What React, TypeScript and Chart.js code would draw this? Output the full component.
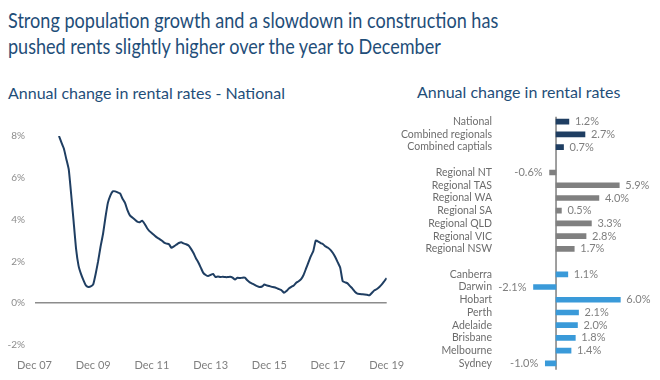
import React, { useEffect, useRef } from "react";
import { Chart, registerables } from "chart.js";

Chart.register(...registerables);

// ---------- Left chart data ----------
const tickLabels = ["Dec 07", "Dec 09", "Dec 11", "Dec 13", "Dec 15", "Dec 17", "Dec 19"];
const monthsPerTick = 24;
const firstMonth = 10; // months after Dec 07 (Oct 08)
const national = [
  8.0, 7.7, 7.4, 6.9, 6.4, 5.2, 3.9, 2.6, 1.8, 1.4,
  1.1, 0.85, 0.78, 0.8, 0.9, 1.4, 2.0, 2.7, 3.3, 4.1,
  4.8, 5.15, 5.35, 5.35, 5.3, 5.25, 5.0, 4.8, 4.45, 4.2,
  4.1, 4.0, 3.9, 3.87, 3.95, 3.8, 3.6, 3.45, 3.35, 3.25,
  3.15, 3.08, 3.0, 2.9, 2.85, 2.82, 2.65, 2.72, 2.8, 2.88,
  2.92, 2.86, 2.82, 2.76, 2.6, 2.4, 2.15, 1.95, 1.7, 1.45,
  1.35, 1.3, 1.35, 1.4, 1.25, 1.28, 1.25, 1.27, 1.25, 1.25,
  1.27, 1.22, 1.13, 1.22, 1.2, 1.22, 1.22, 1.1, 1.0, 0.94,
  0.88, 0.82, 0.78, 0.8, 0.89, 0.85, 0.82, 0.78, 0.76, 0.72,
  0.67, 0.62, 0.5, 0.58, 0.7, 0.78, 0.85, 0.98, 1.05, 1.15,
  1.35, 1.65, 1.95, 2.25, 2.5, 3.0, 2.95, 2.88, 2.82, 2.72,
  2.65, 2.55, 2.4, 2.2, 1.95, 1.7, 1.05, 1.0, 0.95, 0.82,
  0.7, 0.55, 0.46, 0.44, 0.43, 0.42, 0.4, 0.38, 0.5, 0.62,
  0.68, 0.78, 0.9, 1.05, 1.2,
];
const yTicks = [-2, 0, 2, 4, 6, 8];

// ---------- Right chart data ----------
const barLabels = [
  "National", "Combined regionals", "Combined captials", "",
  "Regional NT", "Regional TAS", "Regional WA", "Regional SA", "Regional QLD", "Regional VIC", "Regional NSW", "",
  "Canberra", "Darwin", "Hobart", "Perth", "Adelaide", "Brisbane", "Melbourne", "Sydney",
];
const barValues = [
  1.2, 2.7, 0.7, null,
  -0.6, 5.9, 4.0, 0.5, 3.3, 2.8, 1.7, null,
  1.1, -2.1, 6.0, 2.1, 2.0, 1.8, 1.4, -1.0,
];
const barGroups = [
  "nat", "nat", "nat", "",
  "reg", "reg", "reg", "reg", "reg", "reg", "reg", "",
  "cap", "cap", "cap", "cap", "cap", "cap", "cap", "cap",
];

const FONT = "Lato, 'Open Sans', sans-serif";
const TITLE_COLOR = "#1f4e79";
const groupColor: Record<string, string> = { nat: "#1f3e62", reg: "#808080", cap: "#3a9ad9", "": "#000" };

function LineChart() {
  const ref = useRef<HTMLCanvasElement>(null);
  useEffect(() => {
    const chart = new Chart(ref.current!, {
      type: "line",
      data: {
        datasets: [
          {
            data: national.map((v, i) => ({ x: firstMonth + i, y: v })),
            borderColor: "#1f3e62",
            borderWidth: 2,
            pointRadius: 0,
            tension: 0.15,
            fill: false,
          },
        ],
      },
      options: {
        responsive: false,
        animation: false,
        devicePixelRatio: 1,
        layout: { padding: { left: 0, top: 36, right: 33.3, bottom: 0 } },
        plugins: { legend: { display: false }, tooltip: { enabled: false } },
        scales: {
          x: {
            type: "linear",
            min: 0,
            max: (tickLabels.length - 1) * monthsPerTick,
            grid: { display: false },
            border: { display: false },
            afterBuildTicks: (s: any) => {
              s.ticks = tickLabels.map((_, i) => ({ value: i * monthsPerTick }));
            },
            afterFit: (s: any) => {
              s.height = 35;
            },
            ticks: {
              autoSkip: false,
              maxRotation: 0,
              padding: 6,
              color: "#7f7f7f",
              font: { family: FONT, size: 11 },
              callback: (v: any) => tickLabels[Math.round(Number(v) / monthsPerTick)],
            },
          },
          y: {
            min: -2,
            max: 8,
            afterBuildTicks: (s: any) => {
              s.ticks = yTicks.map((v) => ({ value: v }));
            },
            afterFit: (s: any) => {
              s.width = 34.5;
            },
            border: { display: false },
            grid: {
              drawTicks: false,
              lineWidth: 1.5,
              color: (c: any) => (c.tick && c.tick.value === 0 ? "#8c8c8c" : "rgba(0,0,0,0)"),
            },
            ticks: {
              padding: 9.5,
              color: "#8c8c8c",
              font: { family: FONT, size: 10 },
              callback: (v: any) => `${v}%`,
            },
          },
        },
      },
    } as any);
    return () => chart.destroy();
  }, []);
  return <canvas ref={ref} width={420} height={280} style={{ position: "absolute", left: 0, top: 100, width: 420, height: 280 }} />;
}

const barPlugin = {
  id: "barExtras",
  beforeDatasetsDraw(chart: any) {
    const { ctx, chartArea } = chart;
    const x0 = chart.scales.x.getPixelForValue(0);
    ctx.save();
    ctx.strokeStyle = "#7f7f7f";
    ctx.lineWidth = 1.5;
    ctx.beginPath();
    ctx.moveTo(x0, chartArea.top + 1.5);
    ctx.lineTo(x0, chartArea.bottom);
    ctx.stroke();
    ctx.restore();
  },
  afterDatasetsDraw(chart: any) {
    const { ctx } = chart;
    const meta = chart.getDatasetMeta(0);
    ctx.save();
    ctx.font = `11px ${FONT}`;
    ctx.fillStyle = "#7f7f7f";
    ctx.textBaseline = "middle";
    meta.data.forEach((el: any, i: number) => {
      const v = barValues[i];
      if (v === null || v === undefined) return;
      const txt = `${v.toFixed(1)}%`;
      if (v >= 0) {
        ctx.textAlign = "left";
        ctx.fillText(txt, el.x + 6, el.y);
      } else {
        ctx.textAlign = "right";
        ctx.fillText(txt, el.x - 7, el.y);
      }
    });
    ctx.restore();
  },
};

function BarChart() {
  const ref = useRef<HTMLCanvasElement>(null);
  useEffect(() => {
    const chart = new Chart(ref.current!, {
      type: "bar",
      data: {
        labels: barLabels,
        datasets: [
          {
            data: barValues,
            backgroundColor: barGroups.map((g) => groupColor[g]),
            barThickness: 5,
            borderWidth: 0,
          },
        ],
      },
      options: {
        indexAxis: "y",
        responsive: false,
        animation: false,
        devicePixelRatio: 1,
        layout: { padding: { left: 0, top: 15.3, right: 0, bottom: 9.7 } },
        plugins: { legend: { display: false }, tooltip: { enabled: false } },
        scales: {
          x: { display: false, min: -5.6, max: 9.7 },
          y: {
            grid: { display: false, drawTicks: false },
            border: { display: false },
            afterFit: (s: any) => {
              s.width = 106;
            },
            ticks: {
              autoSkip: false,
              padding: 4,
              color: "#6d6d6d",
              font: { family: FONT, size: 10.5 },
            },
          },
        },
      },
      plugins: [barPlugin],
    } as any);
    return () => chart.destroy();
  }, []);
  return <canvas ref={ref} width={270} height={280} style={{ position: "absolute", left: 390, top: 100, width: 270, height: 280 }} />;
}

export default function App() {
  return (
    <div style={{ position: "absolute", left: 0, top: 0, width: 660, height: 380, background: "#fff", overflow: "hidden", fontFamily: FONT }}>
      <div
        style={{
          position: "absolute",
          left: 8,
          top: 7,
          fontSize: 21,
          lineHeight: "26px",
          color: TITLE_COLOR,
          whiteSpace: "nowrap",
          transform: "scaleX(0.86)",
          transformOrigin: "left top",
        }}
      >
        Strong population growth and a slowdown in construction has
        <br />
        pushed rents slightly higher over the year to December
      </div>
      <div style={{ position: "absolute", left: 8, top: 82, fontSize: 16, lineHeight: "21px", color: TITLE_COLOR, whiteSpace: "nowrap" }}>
        Annual change in rental rates - National
      </div>
      <div style={{ position: "absolute", left: 417, top: 81, fontSize: 16, lineHeight: "21px", color: TITLE_COLOR, whiteSpace: "nowrap" }}>
        Annual change in rental rates
      </div>
      <LineChart />
      <BarChart />
    </div>
  );
}
